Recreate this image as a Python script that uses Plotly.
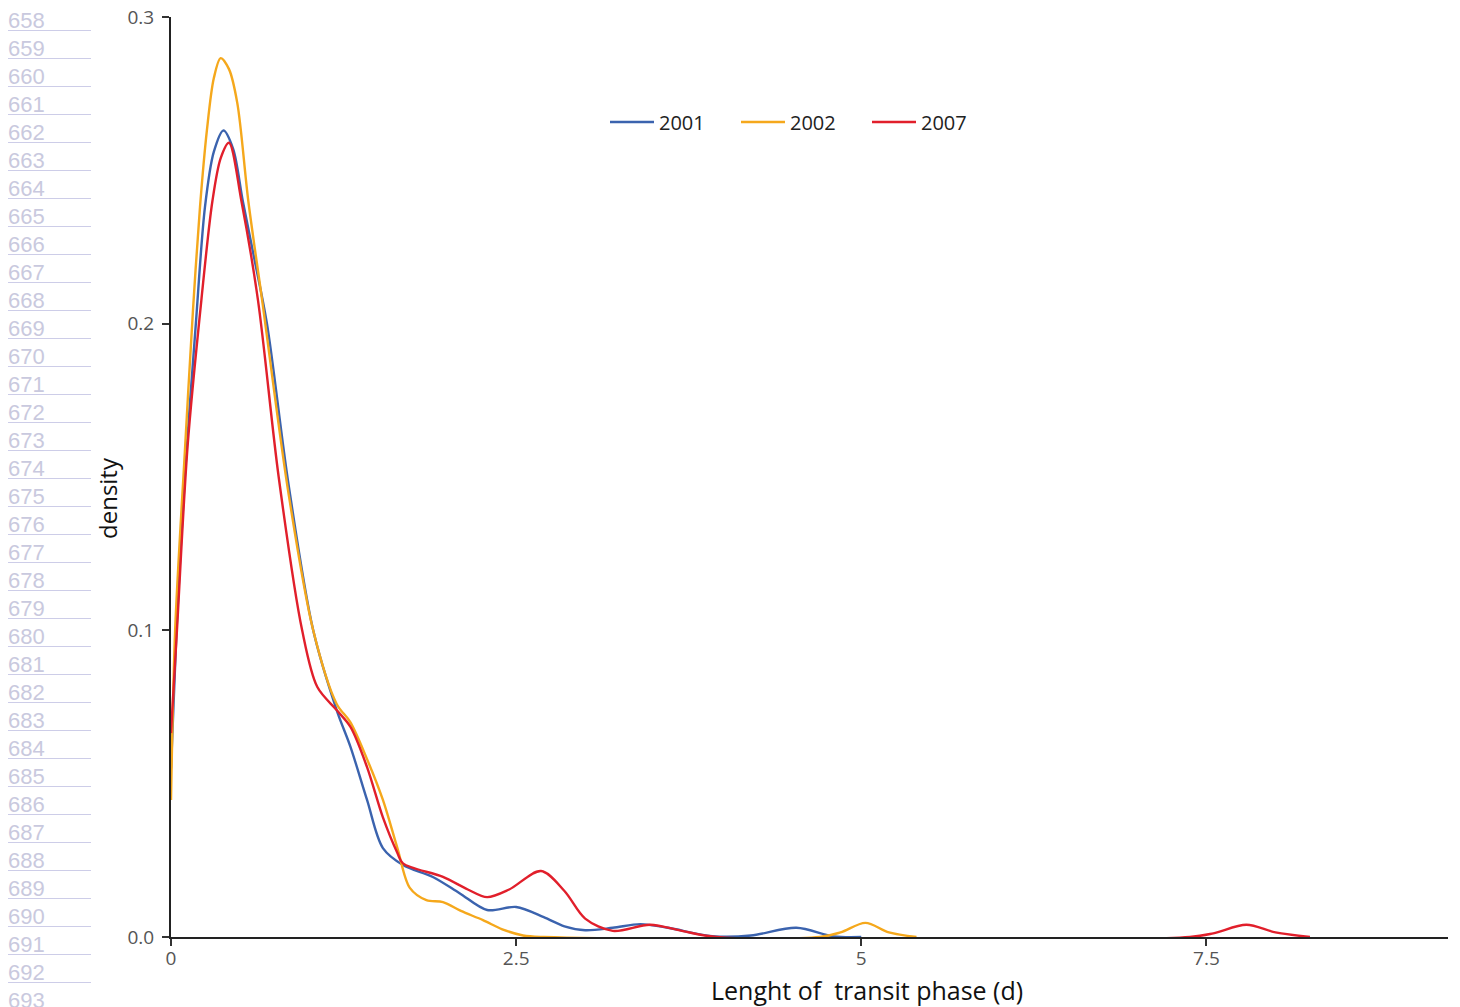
import plotly.graph_objects as go

# ---- data ----
x_2001 = [0.0, 0.04, 0.1, 0.18, 0.246, 0.31, 0.38, 0.45, 0.52, 0.6, 0.695, 0.85, 1.03, 1.2, 1.3, 1.42, 1.535, 1.68, 1.9, 2.09, 2.29, 2.5, 2.7, 2.85, 3.0, 3.2, 3.4, 3.6, 3.92, 4.2, 4.53, 4.8, 5.0]
y_2001 = [0.055, 0.1, 0.15, 0.2, 0.238, 0.256, 0.263, 0.257, 0.24, 0.222, 0.2, 0.148, 0.1, 0.074, 0.062, 0.0447, 0.029, 0.0235, 0.0195, 0.0143, 0.0088, 0.0098, 0.0065, 0.0035, 0.0022, 0.003, 0.0042, 0.003, 0.0003, 0.0005, 0.003, 0.0002, 0.0]

x_2002 = [0.0, 0.03, 0.1, 0.16, 0.21, 0.26, 0.31, 0.36, 0.42, 0.48, 0.56, 0.66, 0.85, 1.03, 1.2, 1.3, 1.42, 1.535, 1.64, 1.73, 1.85, 1.97, 2.1, 2.26, 2.4, 2.55, 2.7, 4.7, 4.85, 5.03, 5.2, 5.4]
y_2002 = [0.0447, 0.1, 0.158, 0.205, 0.238, 0.263, 0.28, 0.2866, 0.283, 0.272, 0.24, 0.2077, 0.145, 0.1, 0.076, 0.07, 0.058, 0.0447, 0.029, 0.016, 0.012, 0.0114, 0.0085, 0.0055, 0.0025, 0.0005, 0.0, 0.0, 0.0015, 0.0046, 0.0015, 0.0]

x_2007 = [0.0, 0.043, 0.12, 0.22, 0.30, 0.36, 0.42, 0.51, 0.63, 0.78, 0.95, 1.06, 1.2, 1.3, 1.42, 1.535, 1.64, 1.68, 1.97, 2.15, 2.29, 2.45, 2.68, 2.85, 3.0, 3.2, 3.47, 3.7, 3.95, 7.38, 7.55, 7.79, 8.0, 8.25]
y_2007 = [0.0665, 0.1, 0.16, 0.2077, 0.24, 0.254, 0.259, 0.24, 0.2077, 0.15, 0.1, 0.0815, 0.074, 0.0685, 0.0554, 0.039, 0.0274, 0.024, 0.0196, 0.0155, 0.013, 0.0155, 0.0215, 0.015, 0.006, 0.002, 0.004, 0.002, 0.0, 0.0, 0.0012, 0.004, 0.0015, 0.0]

series_names = ["2001", "2002", "2007"]
series_x = [x_2001, x_2002, x_2007]
series_y = [y_2001, y_2002, y_2007]
series_colors = ["#3b63ae", "#f5a81c", "#e11f2b"]

x_tickvals = [0, 2.5, 5, 7.5]
x_ticktext = ["0", "2.5", "5", "7.5"]
y_tickvals = [0.0, 0.1, 0.2, 0.3]
y_ticktext = ["0.0", "0.1", "0.2", "0.3"]

x_title = "Lenght of \u00a0transit phase (d)"
y_title = "density"

line_numbers = list(range(658, 694))

# ---- page geometry (pixels); the page body has an 8 px margin ----
BODY = 8
PAGE_W, PAGE_H = 1460, 1007
PLOT_L, PLOT_R, PLOT_T, PLOT_B = 171, 1448, 17, 937   # plot area in page px
W, H = PAGE_W - BODY, PAGE_H - BODY
plot_w = PLOT_R - PLOT_L
plot_h = PLOT_B - PLOT_T


def px_to_paper_x(px):
    return (px - PLOT_L) / plot_w


def py_to_paper_y(py):
    return (PLOT_B - py) / plot_h


FONT = "Open Sans"

fig = go.Figure()
for name, xs, ys, col in zip(series_names, series_x, series_y, series_colors):
    fig.add_trace(go.Scatter(
        x=xs, y=ys, name=name, mode="lines",
        line=dict(color=col, width=2.4, shape="spline", smoothing=0.9),
    ))

annotations = []
shapes = []
for i, n in enumerate(line_numbers):
    cy = 20.5 + 28 * i
    annotations.append(dict(
        text=str(n), xref="paper", yref="paper",
        x=px_to_paper_x(7), y=py_to_paper_y(cy),
        xanchor="left", yanchor="middle", showarrow=False, borderpad=0,
        font=dict(family="Liberation Sans", size=22, color="#c9c9de"),
    ))
    uy = py_to_paper_y(cy + 10)
    shapes.append(dict(
        type="line", xref="paper", yref="paper",
        x0=px_to_paper_x(8), x1=px_to_paper_x(91), y0=uy, y1=uy,
        line=dict(color="#cdcde8", width=1),
    ))

# axis titles placed as annotations (they are off-centre in the reference)
annotations.append(dict(
    text=x_title, xref="paper", yref="paper",
    x=px_to_paper_x(867), y=py_to_paper_y(990),
    xanchor="center", yanchor="middle", showarrow=False, borderpad=0,
    font=dict(family=FONT, size=25, color="#111"),
))
annotations.append(dict(
    text=y_title, xref="paper", yref="paper",
    x=px_to_paper_x(107), y=py_to_paper_y(498),
    xanchor="center", yanchor="middle", showarrow=False, textangle=-90,
    font=dict(family=FONT, size=24, color="#111"),
))

fig.update_layout(
    width=W, height=H,
    margin=dict(l=PLOT_L - BODY, r=W - (PLOT_R - BODY), t=PLOT_T - BODY,
                b=H - (PLOT_B - BODY), pad=0, autoexpand=False),
    paper_bgcolor="white", plot_bgcolor="white",
    font=dict(family=FONT, color="#222"),
    showlegend=True,
    legend=dict(
        orientation="h", x=px_to_paper_x(605), y=py_to_paper_y(122),
        xanchor="left", yanchor="middle",
        font=dict(family=FONT, size=20, color="#222"),
        itemwidth=44, entrywidth=72, entrywidthmode="pixels",
        bgcolor="rgba(0,0,0,0)",
    ),
    annotations=annotations,
    shapes=shapes,
)

fig.update_xaxes(
    range=[0, 9.25], tickvals=x_tickvals, ticktext=x_ticktext,
    showgrid=False, zeroline=False, automargin=False,
    showline=True, linecolor="#222", linewidth=2,
    ticks="outside", ticklen=7, tickwidth=2, tickcolor="#333",
    ticklabelstandoff=-4, ticklabeloverflow="allow",
    tickfont=dict(family=FONT, size=19, color="#555"),
)
fig.update_yaxes(
    range=[0, 0.3], tickvals=y_tickvals, ticktext=y_ticktext,
    showgrid=False, zeroline=False, automargin=False,
    showline=True, linecolor="#222", linewidth=2,
    ticks="outside", ticklen=7, tickwidth=2, tickcolor="#333",
    ticklabelstandoff=4, ticklabeloverflow="allow",
    tickfont=dict(family=FONT, size=19, color="#555"),
)

fig.write_html("out.html")
